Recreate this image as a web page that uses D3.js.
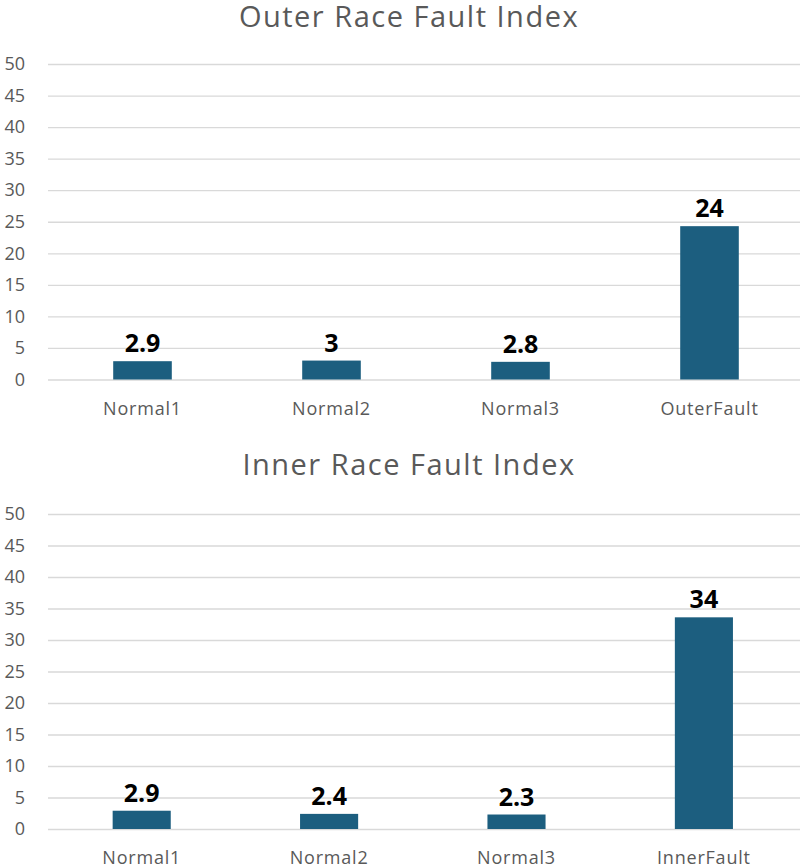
<!DOCTYPE html>
<html>
<head>
<meta charset="utf-8">
<script src="https://cdn.jsdelivr.net/npm/d3@7"></script>
<style>
    body { margin: 0; background: #fff; }
    svg { display: block; font-family: 'Open Sans', sans-serif; }
</style>
</head>
<body>
<svg id="chart" width="804" height="866"></svg>
<script>
// data
const outerCategories = ["Normal1", "Normal2", "Normal3", "OuterFault"];
const outerValues = [2.9, 3.0, 2.8, 24.3];
const innerCategories = ["Normal1", "Normal2", "Normal3", "InnerFault"];
const innerValues = [2.9, 2.4, 2.3, 33.6];
const yTicks = [0, 5, 10, 15, 20, 25, 30, 35, 40, 45, 50];

const BAR = "#1c5e7f";
const GRID = "#d9d9d9";
const TEXT = "#595959";

const svg = d3.select("svg#chart");
const fmt = d3.format(".2~r");

function drawPanel(opts) {
    const {title, cats, vals, top, bottom, left, right, titleY} = opts;

    const g = svg.append("g");

    const x = d3.scaleBand()
        .domain(cats)
        .range([left, right])
        .paddingInner(0.69)
        .paddingOuter(0.345);

    const y = d3.scaleLinear()
        .domain([0, 50])
        .range([bottom, top]);

    g.append("text")
        .attr("x", 409)
        .attr("y", titleY)
        .attr("text-anchor", "middle")
        .attr("font-size", 29)
        .attr("letter-spacing", 1.5)
        .attr("fill", TEXT)
        .text(title);

    // gridlines + y labels
    const yAxis = g.append("g")
        .attr("transform", `translate(${left},0)`)
        .call(d3.axisLeft(y).tickValues(yTicks).tickSize(-(800 - left)).tickPadding(23));
    yAxis.select(".domain").remove();
    yAxis.selectAll("line").attr("stroke", GRID).attr("stroke-width", 1.3);
    yAxis.selectAll("text")
        .attr("fill", TEXT)
        .attr("font-size", 18)
        .attr("font-family", "'Open Sans', sans-serif");

    // category labels
    const xAxis = g.append("g")
        .attr("transform", `translate(0,${bottom})`)
        .call(d3.axisBottom(x).tickSize(0).tickPadding(22.5));
    xAxis.select(".domain").remove();
    xAxis.selectAll("text")
        .attr("fill", TEXT)
        .attr("font-size", 18)
        .attr("letter-spacing", 0.8)
        .attr("font-family", "'Open Sans', sans-serif");

    const data = cats.map((c, i) => ({c, v: vals[i]}));

    g.append("g")
        .selectAll("rect")
        .data(data)
        .join("rect")
        .attr("x", d => x(d.c))
        .attr("y", d => y(d.v))
        .attr("width", x.bandwidth())
        .attr("height", d => y(0) - y(d.v))
        .attr("fill", BAR);

    g.append("g")
        .selectAll("text")
        .data(data)
        .join("text")
        .attr("x", d => x(d.c) + x.bandwidth() / 2)
        .attr("y", d => y(d.v) - 9)
        .attr("text-anchor", "middle")
        .attr("font-size", 25)
        .attr("font-weight", 700)
        .attr("fill", "#000")
        .text(d => fmt(d.v));
}

drawPanel({
    title: "Outer Race Fault Index",
    cats: outerCategories, vals: outerValues,
    top: 64, bottom: 379.5, left: 48, right: 804, titleY: 27
});

drawPanel({
    title: "Inner Race Fault Index",
    cats: innerCategories, vals: innerValues,
    top: 514, bottom: 829, left: 48, right: 797.6, titleY: 475
});
</script>
</body>
</html>
